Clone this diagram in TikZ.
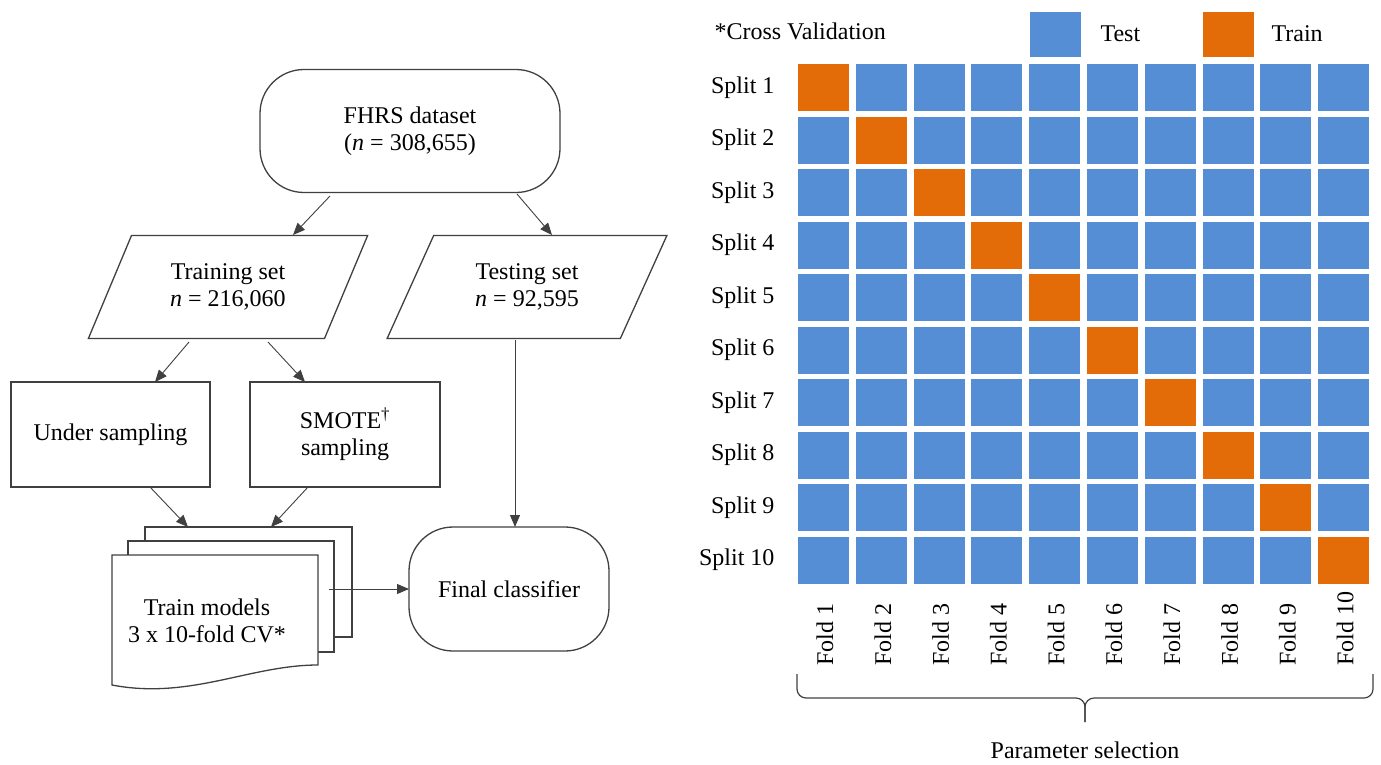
\documentclass[tikz,border=0pt]{standalone}
\usepackage{fontspec}
\setmainfont{Liberation Serif}
\usetikzlibrary{shapes.geometric,calc,arrows.meta}
\definecolor{testblue}{HTML}{558ED5}
\definecolor{trainorange}{HTML}{E36C09}
\definecolor{outline}{HTML}{404040}
\begin{document}
\begin{tikzpicture}[x=1pt,y=-1pt,
	font=\fontsize{24}{27}\selectfont,
	box/.style={draw=outline,line width=1.3pt,fill=white,align=center,inner sep=0pt,outer sep=0pt},
	terminal/.style={box,rounded corners=44pt},
	dataio/.style={box,trapezium,trapezium left angle=61,trapezium right angle=119,trapezium stretches=true,minimum width=280,minimum height=103},
	flow/.style={draw=gray,line width=0.9pt,-{Triangle[length=12pt,width=10pt]},color=outline},
	brace/.style={draw=outline,line width=1.2pt,rounded corners=9pt}]
	\useasboundingbox (0,0) rectangle (1381,764);
	% flowchart
	\node[terminal,minimum width=300,minimum height=123] (fhrs) at (410,131) {FHRS dataset\\(\textit{n} = 308,655)};
	\node[dataio] (train) at (228,287) {Training set\\\textit{n} = 216,060};
	\node[dataio] (test) at (527,287) {Testing set\\\textit{n} = 92,595};
	\node[box,minimum width=199,minimum height=105] (under) at (110.5,434.5) {Under sampling};
	\node[box,minimum width=190,minimum height=105] (smote) at (345,434.5) {SMOTE\textsuperscript{\textdagger}\\sampling};
	\node[box,minimum width=207,minimum height=110] (page3) at (248.5,582) {};
	\node[box,minimum width=206,minimum height=111] (page2) at (231,596.5) {};
	\draw[box] (112,555) -- (318,555) -- (318,665) .. controls (250,665) and (190,700) .. (112,685) -- cycle;
	\node[align=center] (cv) at (207,621) {Train models\\3 x 10-fold CV*};
	\coordinate (cvout) at (329,589);
	\node[terminal,minimum width=200,minimum height=124] (final) at (509,589) {Final classifier};
	\draw[flow] ($(fhrs)+(-80,65)$) -- ($(train)+(65,-52)$);
	\draw[flow] ($(fhrs)+(107,63)$) -- ($(test)+(25,-52)$);
	\draw[flow] ($(train)+(-39,55)$) -- ($(under)+(44.5,-52.5)$);
	\draw[flow] ($(train)+(40,55)$) -- ($(smote)+(-40,-52.5)$);
	\draw[flow] ($(under)+(39.5,52.5)$) -- ($(page3)+(-60.5,-55)$);
	\draw[flow] ($(smote)+(-37,52.5)$) -- ($(page3)+(22.5,-55)$);
	\draw[flow] ($(test)+(-12,53)$) -- ($(final.north)+(6,0)$);
	\draw[flow] (cvout) -- (final.west);
	% cross validation
	\node[anchor=west] (cvtitle) at (711,31) {*Cross Validation};
	\fill[testblue] (1030,12) rectangle (1081,57);
	\node[anchor=west] (testkey) at (1097,34) {Test};
	\fill[trainorange] (1203,12) rectangle (1254,57);
	\node[anchor=west] (trainkey) at (1268,34) {Train};
	\foreach \r in {1,...,10} {
		\node[anchor=east] (split\r) at (778,{64+52.5*(\r-1)+23.5}) {Split \r};
		\foreach \c in {1,...,10} {
			\ifnum\r=\c \def\cellcol{trainorange}\else\def\cellcol{testblue}\fi
			\fill[\cellcol] ({798+57.8*(\c-1)},{64+52.5*(\r-1)}) rectangle +(51,47);
		}
	}
	\foreach \c in {1,...,10} {
		\node[rotate=90,anchor=west,inner sep=0pt] (fold\c) at ({798+57.8*(\c-1)+27},666) {Fold \c};
	}
	\coordinate (braceL) at (797,674);
	\coordinate (braceR) at (1373,674);
	\coordinate (braceTip) at (1085,722);
	\draw[brace] (braceL) -- (797,698) -- (1085,698) -- (braceTip);
	\draw[brace] (braceR) -- (1373,698) -- (1085,698) -- (braceTip);
	\node (param) at (1085,750) {Parameter selection};
\end{tikzpicture}
\end{document}
